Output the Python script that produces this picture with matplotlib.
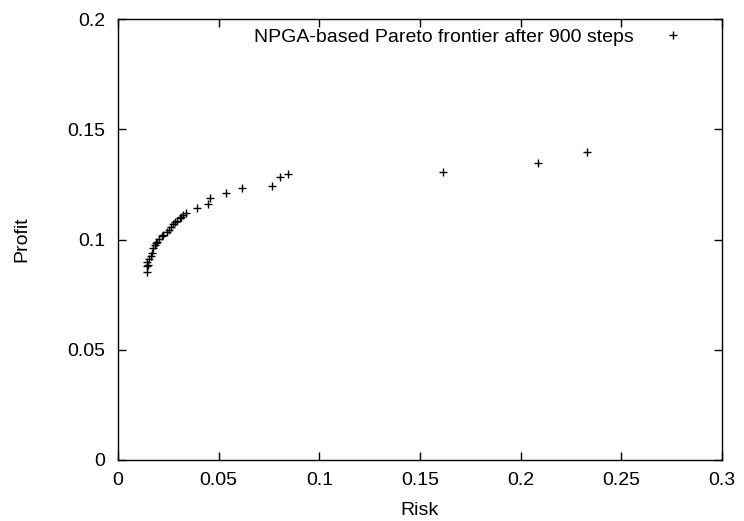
import matplotlib
matplotlib.use("Agg")
import matplotlib.pyplot as plt

# NPGA Pareto frontier points (risk, profit)
risk = [0.0146, 0.0143, 0.0146, 0.0150, 0.0155, 0.0162, 0.0168, 0.0175, 0.0184,
        0.0190, 0.0195, 0.0205, 0.0217, 0.0225, 0.0242, 0.0255, 0.0262, 0.0275,
        0.0285, 0.0295, 0.0308, 0.0315, 0.0324, 0.0338, 0.0391, 0.0449, 0.0457,
        0.0537, 0.0618, 0.0764, 0.0805, 0.0846, 0.1616, 0.2088, 0.2331]
profit = [0.0854, 0.0880, 0.0899, 0.0885, 0.0910, 0.0925, 0.0940, 0.0960, 0.0975,
          0.0982, 0.0990, 0.1002, 0.1016, 0.1022, 0.1035, 0.1043, 0.1055, 0.1070,
          0.1078, 0.1084, 0.1096, 0.1104, 0.1111, 0.1122, 0.1141, 0.1160, 0.1190,
          0.1210, 0.1232, 0.1244, 0.1282, 0.1296, 0.1307, 0.1346, 0.1395]

xticks = [0, 0.05, 0.1, 0.15, 0.2, 0.25, 0.3]
xlabels = ["0", "0.05", "0.1", "0.15", "0.2", "0.25", "0.3"]
yticks = [0, 0.05, 0.1, 0.15, 0.2]
ylabels = ["0", "0.05", "0.1", "0.15", "0.2"]

plt.rcParams['font.family'] = ['Liberation Sans', 'DejaVu Sans']

fig = plt.figure(figsize=(7.44, 5.21), dpi=100)
ax = fig.add_axes([0.1586, 0.1171, 0.8118, 0.8464])

ax.plot(risk, profit, linestyle='none', marker='+', color='black',
        markersize=6, markeredgewidth=1.0,
        label='NPGA-based Pareto frontier after 900 steps')

ax.set_xlim(0, 0.3)
ax.set_ylim(0, 0.2)
ax.set_xticks(xticks)
ax.set_xticklabels(xlabels)
ax.set_yticks(yticks)
ax.set_yticklabels(ylabels)
ax.tick_params(direction='in', length=6, width=1, top=True, right=True,
               labelsize=14, pad=9)
for s in ax.spines.values():
    s.set_linewidth(1.0)

ax.set_xlabel('Risk', fontsize=14, labelpad=9)
ax.set_ylabel('Profit', fontsize=14, labelpad=27)

# legend sits inside top right, marker after the text (gnuplot style)
ax.legend(loc='upper right', bbox_to_anchor=(0.97, 1.005), frameon=False,
          markerfirst=False, fontsize=14, handlelength=2.0,
          handletextpad=1.0, borderaxespad=0.2)

fig.savefig('out.png', dpi=100)
